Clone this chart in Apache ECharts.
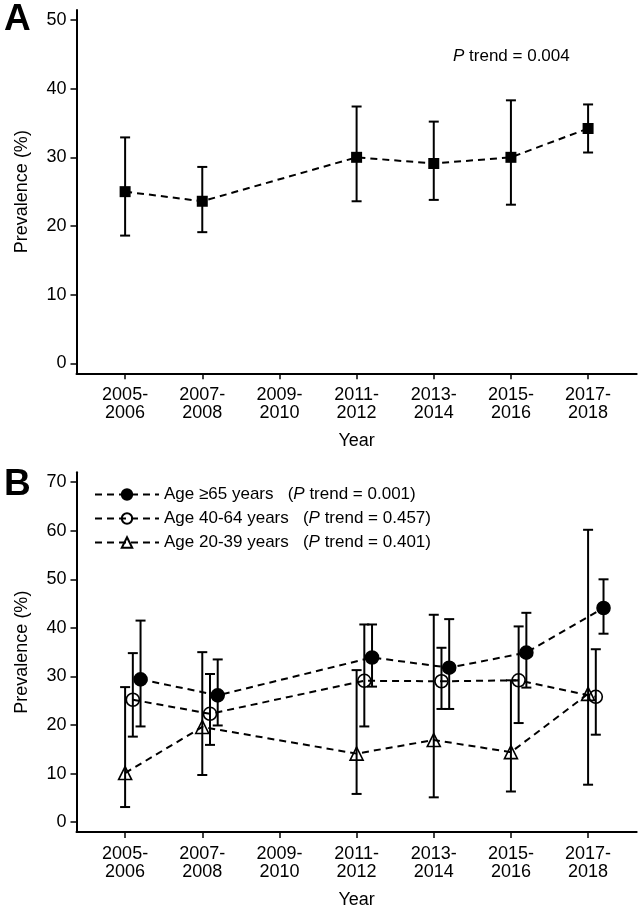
<!DOCTYPE html>
<html><head><meta charset="utf-8">
<script src="https://cdn.jsdelivr.net/npm/echarts@6/dist/echarts.min.js"></script>
<style>html,body{margin:0;padding:0;background:#fff}#c{width:643px;height:910px}</style>
</head><body><div id="c"></div>
<script>
// ---------- data ----------
const categories = ['2005-\n2006','2007-\n2008','2009-\n2010','2011-\n2012','2013-\n2014','2015-\n2016','2017-\n2018'];
const xTicks = [0, 1, 2, 3, 4, 5, 6];
const yearIndex = [0, 1, 3, 4, 5, 6];
const yTicksA = [0, 10, 20, 30, 40, 50];
const yTicksB = [0, 10, 20, 30, 40, 50, 60, 70];

// Panel A: overall
const prevA = [25.0, 23.6, 30.0, 29.1, 30.0, 34.2];
const lowA  = [18.6, 19.1, 23.6, 23.8, 23.1, 30.7];
const highA = [32.9, 28.6, 37.4, 35.2, 38.3, 37.7];
const pTrendA = '0.004';

// Panel B: by age group
const groupNames = ['Age \u226565 years', 'Age 40-64 years', 'Age 20-39 years'];
const pTrendB = ['0.001', '0.457', '0.401'];
const prev65 = [29.4, 26.1, 33.9, 31.8, 34.9, 44.1];
const low65  = [19.7, 19.9, 27.9, 23.3, 27.7, 38.8];
const high65 = [41.5, 33.5, 40.7, 41.8, 43.1, 50.0];
const prev40 = [25.2, 22.3, 29.1, 29.0, 29.2, 25.8];
const low40  = [17.6, 15.9, 19.7, 23.3, 20.4, 18.0];
const high40 = [34.8, 30.5, 40.7, 35.9, 40.3, 35.6];
const prev20 = [10.1, 19.6, 14.1, 16.9, 14.4, 26.4];
const low20  = [3.1, 9.7, 5.8, 5.1, 6.3, 7.7];
const high20 = [27.8, 35.0, 31.3, 42.7, 29.2, 60.2];

// ---------- styles ----------
const FONT = "'Liberation Sans',Arial,sans-serif";
const FS = 18;
const FS_NOTE = 17;
const groupOffsets = [0.2, 0.1, 0];   // horizontal dodge of each age group (x units)
const groupSymbols = ['circle', 'circle', 'triangle'];
const groupFill = ['#000', 'rgba(0,0,0,0)', 'rgba(0,0,0,0)'];
const groupSize = [13, 13, 13];
const DASH = [7, 5];
const CAP = 10;

function pts(idx, vals, off) { return vals.map((v, i) => [idx[i] + off, v]); }
function errs(idx, lo, hi, off) { return lo.map((l, i) => [idx[i] + off, l, hi[i]]); }

function errRender(params, api) {
  const x = api.value(0), lo = api.value(1), hi = api.value(2);
  const a = api.coord([x, lo]), b = api.coord([x, hi]);
  const w = CAP / 2, st = { stroke: '#000', lineWidth: 2 };
  return { type: 'group', children: [
    { type: 'line', shape: { x1: a[0], y1: a[1], x2: b[0], y2: b[1] }, style: st },
    { type: 'line', shape: { x1: a[0] - w, y1: a[1], x2: a[0] + w, y2: a[1] }, style: st },
    { type: 'line', shape: { x1: b[0] - w, y1: b[1], x2: b[0] + w, y2: b[1] }, style: st }
  ]};
}

function xAxis(gi, gap) {
  return {
    type: 'value', gridIndex: gi, min: -0.63, max: 6.63,
    axisLine: { show: true, onZero: false, lineStyle: { color: '#000', width: 2 } },
    axisTick: { show: true, length: 6, customValues: xTicks, lineStyle: { color: '#000', width: 1.5 } },
    axisLabel: { customValues: xTicks, formatter: v => categories[Math.round(v)], fontFamily: FONT, fontSize: FS, lineHeight: 18, color: '#000', margin: 13 },
    splitLine: { show: false },
    name: 'Year', nameLocation: 'middle', nameGap: gap,
    nameTextStyle: { fontFamily: FONT, fontSize: FS, color: '#000' }
  };
}
function yAxis(gi, min, max, ticks) {
  return {
    type: 'value', gridIndex: gi, min: min, max: max,
    axisLine: { show: true, onZero: false, lineStyle: { color: '#000', width: 2 } },
    axisTick: { show: true, length: 6, customValues: ticks, lineStyle: { color: '#000', width: 1.5 } },
    axisLabel: { customValues: ticks, fontFamily: FONT, fontSize: FS, color: '#000', margin: 10 },
    splitLine: { show: false },
    name: 'Prevalence (%)', nameLocation: 'middle', nameGap: 45,
    nameTextStyle: { fontFamily: FONT, fontSize: FS, color: '#000' }
  };
}

const prevB = [prev65, prev40, prev20];
const lowB = [low65, low40, low20];
const highB = [high65, high40, high20];

const series = [
  { type: 'custom', xAxisIndex: 0, yAxisIndex: 0, renderItem: errRender,
    encode: { x: 0, y: [1, 2] }, data: errs(yearIndex, lowA, highA, 0), z: 2, silent: true },
  { type: 'line', xAxisIndex: 0, yAxisIndex: 0, data: pts(yearIndex, prevA, 0),
    symbol: 'rect', symbolSize: 11, itemStyle: { color: '#000' },
    lineStyle: { color: '#000', width: 2, type: DASH }, z: 3 }
];
groupNames.forEach((n, g) => {
  series.push({ type: 'custom', xAxisIndex: 1, yAxisIndex: 1, renderItem: errRender,
    encode: { x: 0, y: [1, 2] }, data: errs(yearIndex, lowB[g], highB[g], groupOffsets[g]), z: 2, silent: true });
});
groupNames.forEach((n, g) => {
  series.push({ type: 'line', name: n, xAxisIndex: 1, yAxisIndex: 1,
    data: pts(yearIndex, prevB[g], groupOffsets[g]),
    symbol: groupSymbols[g], symbolSize: groupSize[g],
    itemStyle: { color: groupFill[g], borderColor: '#000', borderWidth: 1.6 },
    lineStyle: { color: '#000', width: 2, type: DASH }, z: 3 });
});

const option = {
  backgroundColor: '#fff',
  animation: false,
  title: [
    { text: 'A', left: 4, top: 1, padding: 0, textStyle: { fontFamily: FONT, fontSize: 37, fontWeight: 'bold', color: '#000' } },
    { text: 'B', left: 4, top: 466, padding: 0, textStyle: { fontFamily: FONT, fontSize: 37, fontWeight: 'bold', color: '#000' } }
  ],
  grid: [
    { left: 76.5, top: 10, width: 560.2, height: 363.3 },
    { left: 76.5, top: 472.3, width: 560.2, height: 362.7 }
  ],
  xAxis: [xAxis(0, 59), xAxis(1, 59)],
  yAxis: [yAxis(0, -1.455, 51.455, yTicksA), yAxis(1, -2.04, 72.04, yTicksB)],
  legend: {
    orient: 'vertical', left: 89, top: 481, itemWidth: 64, itemHeight: 13, itemGap: 7,
    data: groupNames, selectedMode: false,
    formatter: name => name + '   ({i|P} trend = ' + pTrendB[groupNames.indexOf(name)] + ')',
    textStyle: { fontFamily: FONT, fontSize: FS_NOTE, color: '#000',
      rich: { i: { fontFamily: FONT, fontSize: FS_NOTE, fontStyle: 'italic', color: '#000' } } }
  },
  graphic: [{
    type: 'text', left: 453, top: 48,
    style: { text: '{i|P} trend = ' + pTrendA, fontFamily: FONT, fontSize: FS_NOTE, fill: '#000',
      rich: { i: { fontFamily: FONT, fontSize: FS_NOTE, fontStyle: 'italic', fill: '#000' } } }
  }],
  series: series
};
const chart = echarts.init(document.getElementById('c'), null, { renderer: 'canvas' });
chart.setOption(option);
</script></body></html>
